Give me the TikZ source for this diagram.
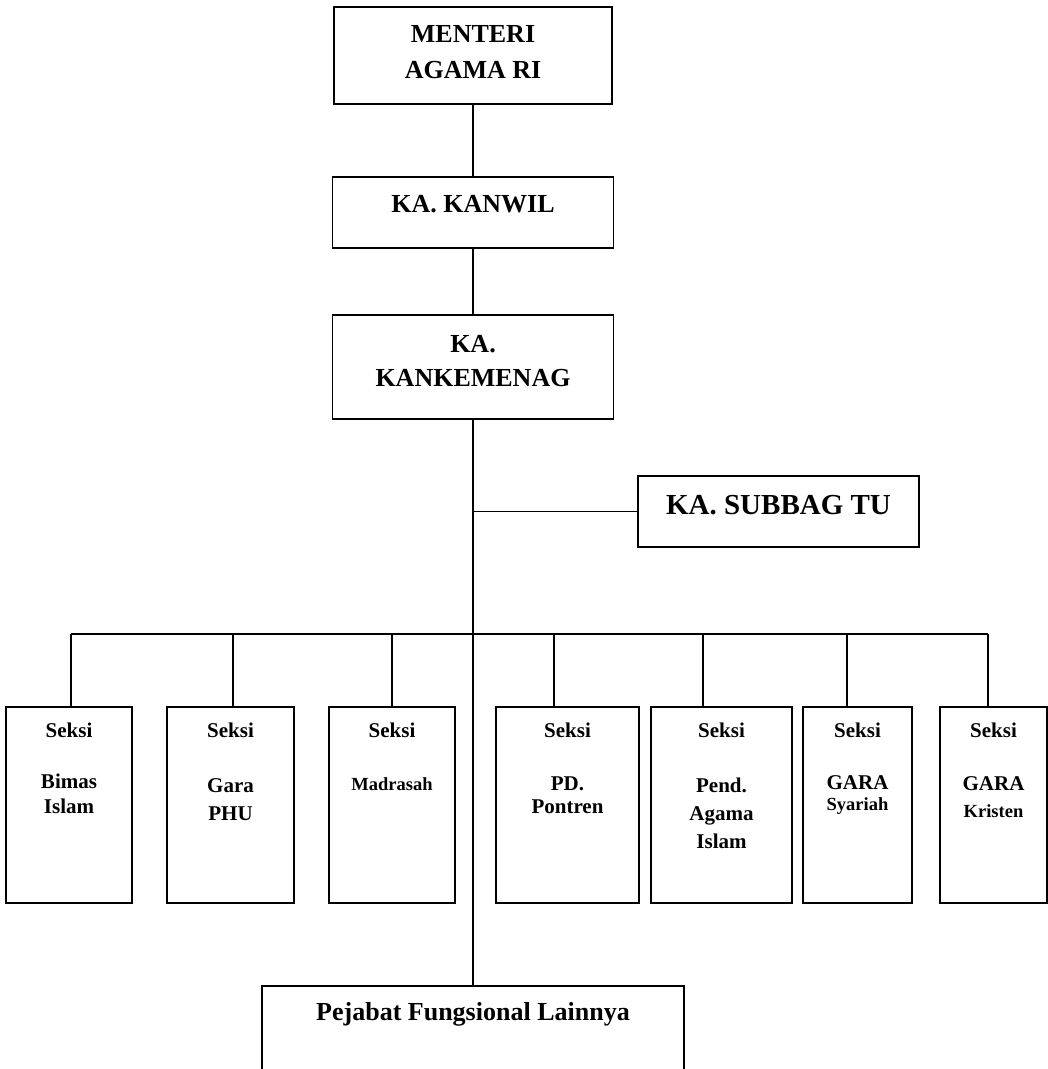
\documentclass[tikz,border=0pt]{standalone}
\usepackage{fontspec}
\setmainfont{Liberation Serif}
\begin{document}
\begin{tikzpicture}[x=1bp,y=-1bp,
  box/.style={draw=black, line width=1.6bp, inner sep=0pt, fill=none},
  conn/.style={draw=black, line width=1.6bp},
  big/.style={anchor=base, inner sep=0pt, font=\fontsize{26bp}{28bp}\selectfont\bfseries},
  huge/.style={anchor=base, inner sep=0pt, font=\fontsize{29bp}{31bp}\selectfont\bfseries},
  mid/.style={anchor=base, inner sep=0pt, font=\fontsize{21bp}{23bp}\selectfont\bfseries},
  sml/.style={anchor=base, inner sep=0pt, font=\fontsize{18.5bp}{20bp}\selectfont\bfseries}]
\useasboundingbox (0,0) rectangle (1048,1069);
% top boxes
\node[box, minimum width=278bp, minimum height=97bp] (menteri) at (473,55.5) {};
\node[box, minimum width=281bp, minimum height=71bp] (kanwil) at (473,212.5) {};
\node[box, minimum width=281bp, minimum height=104bp] (kankem) at (473,367) {};
\node[box, minimum width=281bp, minimum height=71bp] (subbag) at (778.5,511.5) {};
% section boxes
\node[box, minimum width=126bp, minimum height=196bp] (s1) at (69,805) {};
\node[box, minimum width=127bp, minimum height=196bp] (s2) at (230.5,805) {};
\node[box, minimum width=126bp, minimum height=196bp] (s3) at (392,805) {};
\node[box, minimum width=143bp, minimum height=196bp] (s4) at (567.5,805) {};
\node[box, minimum width=141bp, minimum height=196bp] (s5) at (721.5,805) {};
\node[box, minimum width=109bp, minimum height=196bp] (s6) at (857.5,805) {};
\node[box, minimum width=107bp, minimum height=196bp] (s7) at (993.5,805) {};
% bottom box (runs off the page)
\node[box, minimum width=422bp, minimum height=140bp] (pej) at (473,1056) {};
% texts
\node[big] (t1) at (473,42.3) {MENTERI};
\node[big] (t2) at (473,78.3) {AGAMA RI};
\node[big] (t3) at (473,212.3) {KA. KANWIL};
\node[big] (t4) at (473,352.3) {KA.};
\node[big] (t5) at (473,386.7) {KANKEMENAG};
\node[huge] (t6) at (778.5,514) {KA. SUBBAG TU};
\foreach \n/\x in {1/69,2/230.5,3/392,4/567.5,5/721.5,6/857.5,7/993.5}
  \node[mid] (sk\n) at (\x,737) {Seksi};
\node[mid] (a1) at (69,788.3) {Bimas};
\node[mid] (a2) at (69,813.3) {Islam};
\node[mid] (b1) at (230.5,792.3) {Gara};
\node[mid] (b2) at (230.5,820) {PHU};
\node[sml] (c1) at (392,790.7) {Madrasah};
\node[mid] (d1) at (567.5,790) {PD.};
\node[mid] (d2) at (567.5,813.3) {Pontren};
\node[mid] (e1) at (721.5,792.7) {Pend.};
\node[mid] (e2) at (721.5,820) {Agama};
\node[mid] (e3) at (721.5,848.3) {Islam};
\node[mid] (f1) at (857.5,789.3) {GARA};
\node[sml] (f2) at (857.5,810) {Syariah};
\node[mid] (g1) at (993.5,790.7) {GARA};
\node[sml] (g2) at (993.5,817.3) {Kristen};
\node[big] (t7) at (473,1020) {Pejabat Fungsional Lainnya};
% connectors
\draw[conn] (menteri.south) -- (kanwil.north);
\draw[conn] (kanwil.south) -- (kankem.north);
\draw[conn] (kankem.south) -- (pej.north);
\coordinate (j) at (473,511.5);
\draw[conn] (j) -- (subbag.west);
\coordinate (bl) at (71,634);
\coordinate (br) at (988,634);
\draw[conn] (bl) -- (br);
\foreach \n/\x in {1/71,2/233,3/392,4/554,5/703,6/847,7/988}{
  \coordinate (d\n) at (\x,634);
  \draw[conn] (d\n) -- (d\n |- s\n.north);
}
\end{tikzpicture}
\end{document}
